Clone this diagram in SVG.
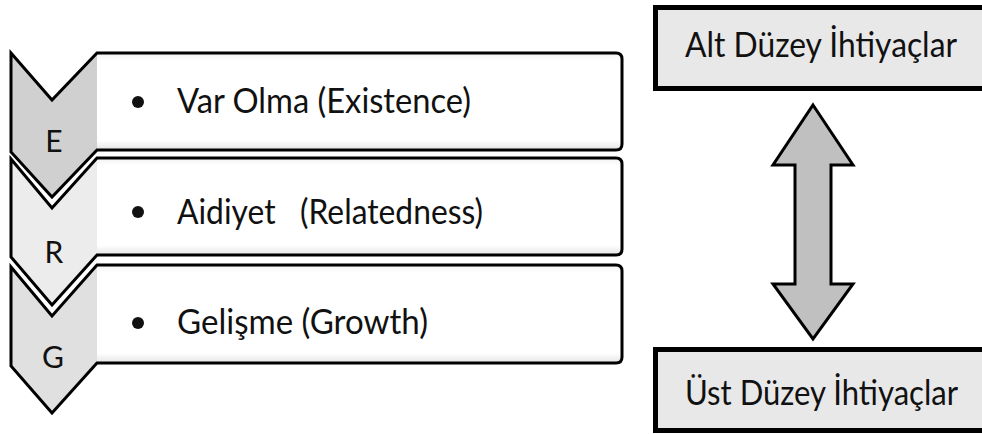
<svg xmlns="http://www.w3.org/2000/svg" width="982" height="434" viewBox="0 0 982 434">
<style>
.outline{fill:none;stroke:#000;stroke-width:3;stroke-linejoin:miter}
.body{fill:url(#rg)}
.t{font-family:Lato,"Liberation Sans",Arial,sans-serif;font-size:35px;fill:#111}
.l{font-family:Lato,"Liberation Sans",Arial,sans-serif;font-size:30px;fill:#111;text-anchor:middle}
.boxfill{fill:#e8e8e8}
.boxline{fill:none;stroke:#000;stroke-width:5}
</style>
<defs>
<linearGradient id="rg" x1="0" y1="0" x2="0" y2="1">
<stop offset="0" stop-color="#f2f2f2"/>
<stop offset="0.08" stop-color="#ffffff"/>
<stop offset="0.9" stop-color="#ffffff"/>
<stop offset="1" stop-color="#e4e4e4"/>
</linearGradient>
</defs>
<rect width="982" height="434" fill="#fff"/>
<g id="node-E">
<path d="M11,53 L52,100 L97,53 L97,150 L52,197 L11,152 Z" fill="#d0d0d0"/>
<path class="body" d="M97,53 L616,53 Q622,53 622,59 L622,144 Q622,150 616,150 L97,150 Z"/>
<path class="outline" d="M11,53 L52,100 L97,53 L616,53 Q622,53 622,59 L622,144 Q622,150 616,150 L97,150 L52,197 L11,152 Z"/>
<text class="l" x="54" y="152">E</text>
<circle cx="138" cy="102" r="6" fill="#111"/>
<text class="t" x="177" y="113" textLength="294" lengthAdjust="spacingAndGlyphs">Var Olma (Existence)</text>
</g>
<g id="node-R">
<path d="M11,159 L52,208 L97,158 L97,255 L52,305 L11,257 Z" fill="#ececec"/>
<path class="body" d="M97,158 L616,158 Q622,158 622,164 L622,249 Q622,255 616,255 L97,255 Z"/>
<path class="outline" d="M11,159 L52,208 L97,158 L616,158 Q622,158 622,164 L622,249 Q622,255 616,255 L97,255 L52,305 L11,257 Z"/>
<text class="l" x="54" y="263">R</text>
<circle cx="138" cy="212" r="6" fill="#111"/>
<text class="t" x="177" y="224" textLength="306" lengthAdjust="spacingAndGlyphs" xml:space="preserve">Aidiyet   (Relatedness)</text>
</g>
<g id="node-G">
<path d="M11,267 L52,316 L97,265 L97,363 L52,413 L11,366 Z" fill="#e0e0e0"/>
<path class="body" d="M97,265 L616,265 Q622,265 622,271 L622,357 Q622,363 616,363 L97,363 Z"/>
<path class="outline" d="M11,267 L52,316 L97,265 L616,265 Q622,265 622,271 L622,357 Q622,363 616,363 L97,363 L52,413 L11,366 Z"/>
<text class="l" x="53" y="368">G</text>
<circle cx="138" cy="323" r="6" fill="#111"/>
<text class="t" x="177" y="334" textLength="251" lengthAdjust="spacingAndGlyphs">Gelişme (Growth)</text>
</g>
<g id="node-alt">
<rect class="boxfill" x="655.5" y="7.5" width="326.5" height="81"/>
<path class="boxline" d="M982,7.5 L655.5,7.5 L655.5,88.5 L982,88.5"/>
<text class="t" x="685" y="57" textLength="272" lengthAdjust="spacingAndGlyphs">Alt Düzey İhtiyaçlar</text>
</g>
<g id="node-ust">
<rect class="boxfill" x="655.5" y="349.5" width="326.5" height="81"/>
<path class="boxline" d="M982,349.5 L655.5,349.5 L655.5,430.5 L982,430.5"/>
<text class="t" x="685" y="405" textLength="273" lengthAdjust="spacingAndGlyphs">Üst Düzey İhtiyaçlar</text>
</g>
<g id="connectors">
<path d="M813,105 L853,165 L831,165 L831,284 L853,284 L813,339 L773,284 L795,284 L795,165 L773,165 Z" fill="#c0c0c0" stroke="#000" stroke-width="3" stroke-linejoin="miter"/>
</g>
</svg>
